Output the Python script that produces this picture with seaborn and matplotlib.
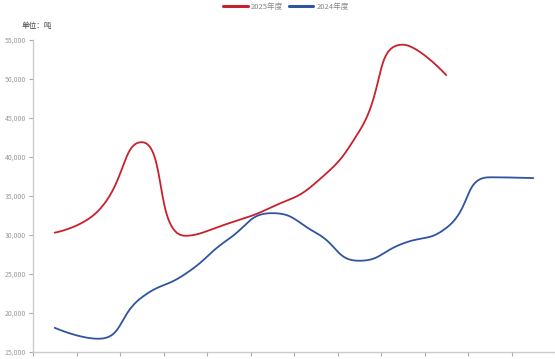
import numpy as np
import pandas as pd
import matplotlib
matplotlib.use("Agg")
import matplotlib.pyplot as plt
import seaborn as sns

# monthly values (tons)
months = list(range(1, 13))
red_2025 = [30300, 33100, 41900, 29900, 31500, 33600, 36700, 43300, 54400, 50500]
blue_2024 = [18100, 16700, 22000, 25000, 29500, 32800, 30300, 26700, 28900, 30900, 37400, 37300]
y_ticks = [15000, 20000, 25000, 30000, 35000, 40000, 45000, 50000, 55000]

RED = "#c8202c"
BLUE = "#2f54a0"

# pixel scale of the plot, used so the smoothing looks like the echarts one
SX = 43.5
SY = 312 / 40000


def clamp(v, a, b):
    return min(max(v, min(a, b)), max(a, b))


def smooth_curve(vals, smooth=0.5, steps=30):
    # echarts-like bezier smoothing, control points kept inside neighbour boxes
    px = np.arange(len(vals)) * SX
    py = np.array(vals, dtype=float) * SY
    n = len(vals)
    cp_in = [None] * n   # control point before point i
    cp_out = [None] * n  # control point after point i
    cp_in[0] = cp_out[0] = (px[0], py[0])
    cp_in[-1] = cp_out[-1] = (px[-1], py[-1])
    for i in range(1, n - 1):
        x, y = px[i], py[i]
        vx = px[i + 1] - px[i - 1]
        vy = py[i + 1] - py[i - 1]
        d0 = np.hypot(x - px[i - 1], y - py[i - 1])
        d1 = np.hypot(px[i + 1] - x, py[i + 1] - y)
        r = d1 / (d0 + d1)
        nx = x + vx * smooth * r
        ny = y + vy * smooth * r
        nx = clamp(nx, px[i + 1], x)
        ny = clamp(ny, py[i + 1], y)
        vx, vy = nx - x, ny - y
        bx = x - vx * d0 / d1
        by = y - vy * d0 / d1
        bx = clamp(bx, px[i - 1], x)
        by = clamp(by, py[i - 1], y)
        vx, vy = x - bx, y - by
        nx = x + vx * d1 / d0
        ny = y + vy * d1 / d0
        cp_in[i] = (bx, by)
        cp_out[i] = (nx, ny)
    xs, ys = [], []
    t = np.linspace(0, 1, steps)
    for i in range(n - 1):
        p0 = np.array([px[i], py[i]])
        c1 = np.array(cp_out[i])
        c2 = np.array(cp_in[i + 1])
        p3 = np.array([px[i + 1], py[i + 1]])
        b = ((1 - t) ** 3)[:, None] * p0 + (3 * (1 - t) ** 2 * t)[:, None] * c1 \
            + (3 * (1 - t) * t ** 2)[:, None] * c2 + (t ** 3)[:, None] * p3
        xs.extend(b[:, 0])
        ys.extend(b[:, 1])
    return np.array(xs) / SX, np.array(ys) / SY


rows = []
for name, vals in [("2025年度", red_2025), ("2024年度", blue_2024)]:
    xs, ys = smooth_curve(vals)
    for i, (a, b) in enumerate(zip(xs, ys)):
        rows.append({"idx": a, "value": b, "year": name, "order": i})
df = pd.DataFrame(rows)

sns.set_style("white")
plt.rcParams['font.family'] = ['Noto Sans CJK SC', 'DejaVu Sans']

fig = plt.figure(figsize=(5.55, 3.59), dpi=100)
ax = fig.add_axes([33 / 555, 7 / 359, 522 / 555, 312 / 359])

sns.lineplot(data=df, x="idx", y="value", hue="year", units="year", estimator=None,
             sort=False, palette={"2025年度": RED, "2024年度": BLUE},
             linewidth=1.3, ax=ax, legend=False)

ax.set_xlim(-0.5, 11.5)
ax.set_ylim(15000, 55000)
ax.set_xticks(np.arange(-0.5, 12, 1))
ax.set_xticklabels([])
ax.set_yticks(y_ticks)
ax.set_yticklabels([f"{v:,}" for v in y_ticks], fontsize=5, color="#999999")
ax.tick_params(axis="both", direction="out", length=3, width=0.8, color="#aaaaaa", pad=2,
               bottom=True, left=True)
ax.set_xlabel("")
ax.set_ylabel("")
for side in ["top", "right"]:
    ax.spines[side].set_visible(False)
for side in ["left", "bottom"]:
    ax.spines[side].set_color("#cccccc")
    ax.spines[side].set_linewidth(1.0)

fig.text(22 / 555, 1 - 26 / 359, "单位：吨", fontsize=5.5, color="#444444", va="center")

handles = [plt.Line2D([], [], color=RED, linewidth=2.2),
           plt.Line2D([], [], color=BLUE, linewidth=2.2)]
fig.legend(handles, ["2025年度", "2024年度"], loc="center", bbox_to_anchor=(286 / 555, 1 - 7 / 359),
           ncol=2, frameon=False, fontsize=5.5, handlelength=3.2, handletextpad=0.4,
           columnspacing=0.8, labelcolor="#888888")

fig.savefig("out.png", dpi=100)
